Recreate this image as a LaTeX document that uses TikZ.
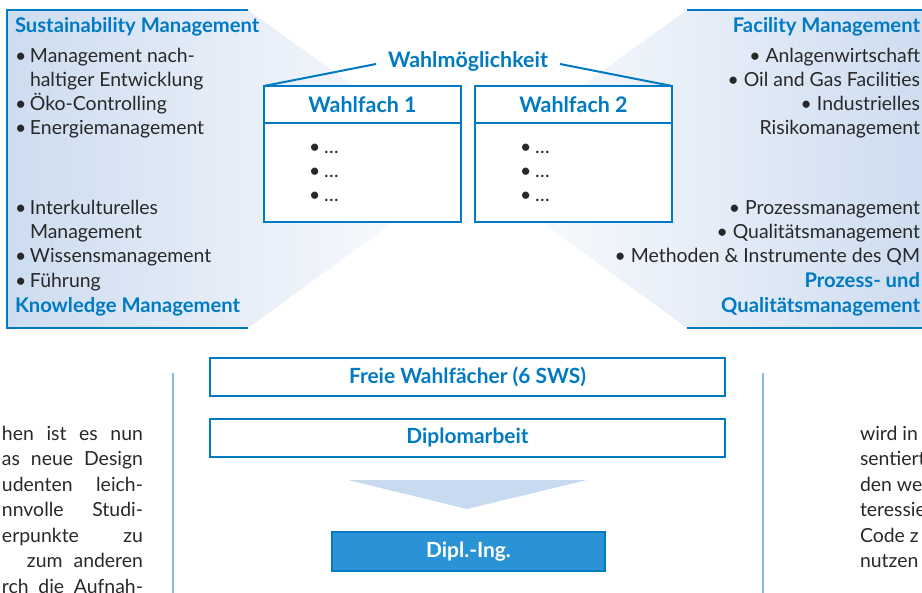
\documentclass[tikz,border=0pt]{standalone}
\usepackage{fontspec}
\setmainfont{Lato}
\definecolor{mblue}{RGB}{0,122,194}
\definecolor{txt}{RGB}{40,40,40}
\definecolor{paneldark}{RGB}{205,220,240}
\definecolor{vline}{RGB}{140,185,228}
\definecolor{tri}{RGB}{200,218,240}
\definecolor{diplfill}{RGB}{42,147,214}
\begin{document}
\begin{tikzpicture}[x=1bp,y=-1bp,
  every node/.style={inner sep=0pt, outer sep=0pt, text=txt, font=\fontsize{19.5}{24}\selectfont},
  ttl/.style={text=mblue, font=\fontsize{20.3}{24}\selectfont\bfseries},
  ttlb/.style={text=mblue, font=\fontsize{21.5}{24}\selectfont\bfseries},
  ttlc/.style={text=mblue, font=\fontsize{21}{24}\selectfont\bfseries},
  tl/.style={anchor=base west},
  tr/.style={anchor=base east},
  bline/.style={draw=mblue, line width=2.4bp},
  wbox/.style={draw=mblue, line width=2.4bp, fill=white},
  lbox/.style={draw=mblue, line width=2bp, fill=white, minimum width=515bp, minimum height=38bp},
]
\useasboundingbox (0,0) rectangle (922,593);
\clip (0,0) rectangle (922,593);
% background panels
\shade[left color=paneldark, right color=white] (7,10) -- (248,10) -- (468,168) -- (248,328) -- (7,328) -- cycle;
\shade[left color=white, right color=paneldark] (468,168) -- (687,10) -- (930,10) -- (930,328) -- (687,328) -- cycle;
\draw[bline] (248,10) -- (7,10) -- (7,328) -- (248,328);
\draw[bline] (687,10) -- (935,10);
\draw[bline] (687,328) -- (935,328);

% left panel text
\node[ttl, tl] (sm) at (15,33) {Sustainability Management};
\node[tl] (l1) at (15,63) {\makebox[15bp][l]{\textbullet}Management nach-};
\node[tl] (l2) at (30,87) {haltiger Entwicklung};
\node[tl] (l3) at (15,111) {\makebox[15bp][l]{\textbullet}Öko-Controlling};
\node[tl] (l4) at (15,135) {\makebox[15bp][l]{\textbullet}Energiemanagement};
\node[tl] (l5) at (15,215) {\makebox[15bp][l]{\textbullet}Interkulturelles};
\node[tl] (l6) at (30,239) {Management};
\node[tl] (l7) at (15,263) {\makebox[15bp][l]{\textbullet}Wissensmanagement};
\node[tl] (l8) at (15,287) {\makebox[15bp][l]{\textbullet}Führung};
\node[ttl, tl] (km) at (15,312) {Knowledge Management};

% right panel text
\node[ttl, tr] (fm) at (920,33) {Facility Management};
\node[tr] (r1) at (920,63) {\textbullet\ Anlagenwirtschaft};
\node[tr] (r2) at (920,87) {\textbullet\ Oil and Gas Facilities};
\node[tr] (r3) at (920,111) {\textbullet\ Industrielles};
\node[tr] (r4) at (920,135) {Risikomanagement};
\node[tr] (r5) at (920,215) {\textbullet\ Prozessmanagement};
\node[tr] (r6) at (920,239) {\textbullet\ Qualitätsmanagement};
\node[tr] (r7) at (920,263) {\textbullet\ Methoden \& Instrumente des QM};
\node[ttl, tr] (pq1) at (920,287) {Prozess- und};
\node[ttl, tr] (pq2) at (920,312) {Qualitätsmanagement};

% Wahlfach boxes
\node[wbox, anchor=north west, minimum width=197bp, minimum height=99bp] (wf1b) at (264,123) {};
\node[wbox, ttlb, anchor=north west, minimum width=197bp, minimum height=37bp] (wf1h) at (264,86) {Wahlfach 1};
\node[wbox, anchor=north west, minimum width=197bp, minimum height=99bp] (wf2b) at (475,123) {};
\node[wbox, ttlb, anchor=north west, minimum width=197bp, minimum height=37bp] (wf2h) at (475,86) {Wahlfach 2};
\foreach \i/\y in {1/154,2/178,3/202}{
  \node[tl] (a\i) at (309,\y) {\makebox[15bp][l]{\textbullet}…};
  \node[tl] (b\i) at (520,\y) {\makebox[15bp][l]{\textbullet}…};
}
\node[ttlb, inner xsep=12bp] (wm) at (468,61) {Wahlmöglichkeit};
\draw[mblue, line width=2bp] (wm.west) ++(0,3) -- (wf1h.north west);
\draw[mblue, line width=2bp] (wm.east) ++(0,3) -- (wf2h.north east);

% lower part
\node[lbox, ttlc] (freie) at (467.5,376.5) {Freie Wahlfächer (6 SWS)};
\node[lbox, ttlc] (dipl) at (467.5,437.5) {Diplomarbeit};
\fill[tri] (348,480) -- (587,480) -- (467,509) -- cycle;
\node[fill=diplfill, draw=mblue, line width=1.5bp, minimum width=273bp, minimum height=39bp, text=white, font=\fontsize{21}{24}\selectfont\bfseries] (ing) at (468.5,551.5) {Dipl.-Ing.};

\draw[vline, line width=2bp] (173,373) -- (173,600);
\draw[vline, line width=2bp] (763,373) -- (763,600);

% body text columns
\node[tr] (p1) at (143,440) {\makebox[141bp][s]{hen ist es nun}};
\node[tr] (p2) at (143,465.5) {\makebox[141bp][s]{as neue Design}};
\node[tr] (p3) at (143,491) {\makebox[141bp][s]{udenten leich-}};
\node[tr] (p4) at (143,516.5) {\makebox[141bp][s]{nnvolle Studi-}};
\node[tr] (p5) at (143,542) {\makebox[141bp][s]{erpunkte zu}};
\node[tr] (p6) at (143,567.5) {\makebox[116bp][s]{zum anderen}};
\node[tr] (p7) at (143,593) {\makebox[141bp][s]{rch die Aufnah-}};
\node[tl] (q1) at (860,440) {wird in};
\node[tl] (q2) at (860,465.5) {sentiert};
\node[tl] (q3) at (860,491) {den we};
\node[tl] (q4) at (860,516.5) {teressie};
\node[tl] (q5) at (860,542) {Code z};
\node[tl] (q6) at (860,567.5) {nutzen};
\end{tikzpicture}
\end{document}
